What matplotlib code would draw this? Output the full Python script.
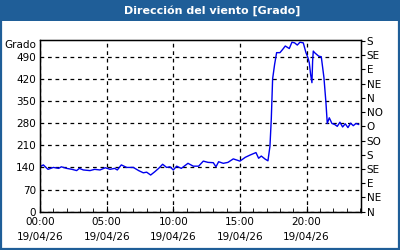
import matplotlib
matplotlib.use("Agg")
import matplotlib.pyplot as plt
from matplotlib.patches import Rectangle
from matplotlib.lines import Line2D

title = "Dirección del viento [Grado]"
y_label = "Grado"
hours = [0.0, 0.25, 0.6, 1.0, 1.4, 1.6, 2.0, 2.4, 2.75, 2.95, 3.25, 3.75, 4.1, 4.5, 4.9,
         5.25, 5.6, 5.8, 6.1, 6.5, 7.0, 7.4, 7.75, 8.0, 8.3, 8.6, 8.9, 9.2, 9.5, 9.75,
         10.0, 10.25, 10.6, 11.1, 11.5, 11.9, 12.25, 12.6, 13.0, 13.2, 13.4, 13.75, 14.1,
         14.5, 15.0, 15.4, 15.75, 16.2, 16.4, 16.6, 16.9, 17.1, 17.25, 17.35, 17.45, 17.6,
         17.75, 18.0, 18.2, 18.4, 18.7, 18.9, 19.1, 19.3, 19.5, 19.75, 19.95, 20.1, 20.2,
         20.3, 20.4, 20.45, 20.5, 20.6, 20.9, 21.1, 21.3, 21.45, 21.55, 21.7, 21.9, 22.1,
         22.3, 22.5, 22.7, 22.9, 23.1, 23.3, 23.5, 23.7, 23.9]
degrees = [142, 148, 134, 140, 137, 142, 137, 134, 130, 137, 132, 130, 134, 132, 139,
           134, 137, 132, 148, 140, 140, 130, 123, 125, 116, 126, 137, 150, 140, 142,
           132, 144, 137, 153, 144, 144, 160, 156, 155, 142, 158, 153, 156,
           167, 160, 172, 179, 187, 169, 176, 166, 161, 207, 293, 420, 466,
           503, 503, 513, 524, 516, 536, 534, 527, 536, 534, 503, 487, 471,
           434, 408, 476, 508, 503, 492, 490, 424, 345, 279, 297, 279, 276,
           270, 283, 268, 278, 266, 280, 272, 279, 276]
x_ticks = [0, 5, 10, 15, 20]
x_labels = ["00:00\n19/04/26", "05:00\n19/04/26", "10:00\n19/04/26",
            "15:00\n19/04/26", "20:00\n19/04/26"]
left_ticks = [0, 70, 140, 210, 280, 350, 420, 490]
right_ticks = [0, 45, 90, 135, 180, 225, 270, 315, 360, 405, 450, 495, 540]
right_labels = ["N", "NE", "E", "SE", "S", "SO", "O", "NO", "N", "NE", "E", "SE", "S"]

blue = "#1f5e98"
fs = 7.5

fig = plt.figure(figsize=(4, 2.5), dpi=100)
fig.patch.set_facecolor("white")
fig.add_artist(Rectangle((0, 229 / 250), 1, 21 / 250, transform=fig.transFigure,
                         facecolor=blue, edgecolor="none", zorder=0))
fig.text(212 / 400, 1 - 10.5 / 250, title, color="white", fontsize=8, fontweight="bold",
         ha="center", va="center")
for xs, ys in [([1 / 400, 1 / 400], [0, 1]), ([398.5 / 400, 398.5 / 400], [0, 1]),
               ([0, 1], [1 / 250, 1 / 250])]:
    fig.add_artist(Line2D(xs, ys, transform=fig.transFigure, color=blue, lw=1.6))

ax = fig.add_axes([40 / 400, 1 - 211.7 / 250, 321 / 400, 171.7 / 250])
ax.plot(hours, degrees, color="#0000ee", lw=1.0)
ax.set_xlim(0, 24.08)
ax.set_ylim(0, 543)
ax.set_yticks(left_ticks)
ax.set_yticklabels([str(v) for v in left_ticks], fontsize=fs)
ax.set_xticks(x_ticks)
ax.set_xticklabels(x_labels, fontsize=fs, linespacing=1.6)
ax.set_xticks(range(0, 25), minor=True)
ax.tick_params(axis="x", which="major", direction="in", length=4, pad=4)
ax.tick_params(axis="x", which="minor", direction="in", length=3)
ax.tick_params(axis="y", which="major", length=0, pad=3)
ax.grid(True, color="black", linestyle=(0, (3, 3)), lw=0.9)
for s in ax.spines.values():
    s.set_linewidth(1.0)

ax2 = ax.twinx()
ax2.set_ylim(0, 543)
ax2.set_yticks(right_ticks)
ax2.set_yticklabels(right_labels, fontsize=fs)
ax2.tick_params(axis="y", direction="out", length=3, pad=1)

fig.text(36 / 400, 1 - 45.5 / 250, y_label, fontsize=fs, ha="right", va="center")

fig.savefig("out.png", dpi=100)
